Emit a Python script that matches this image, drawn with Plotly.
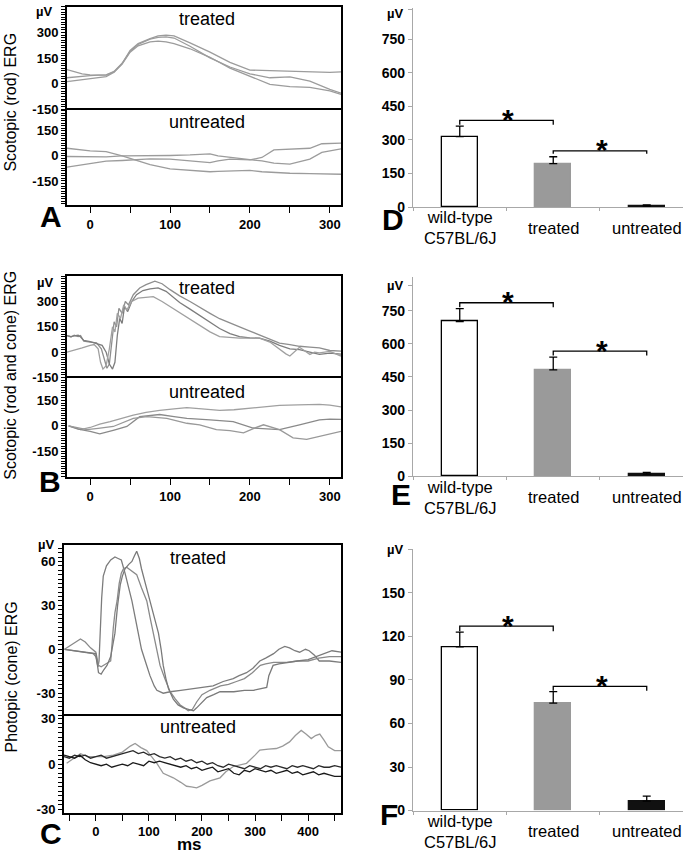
import plotly.graph_objects as go

FONT = "Arial, 'Liberation Sans', Helvetica, sans-serif"
W, H = 692, 858

# ---------------- DATA ----------------
# Panel A: scotopic (rod) ERG waveforms (ms, µV)
A_treat_t = [-29, -20, -10, 0, 10, 20, 30, 40, 50, 60, 75, 85, 95, 105, 125, 150, 175, 200, 225, 250, 275, 300, 314]
A_treat_1 = [83, 70, 58, 52, 50, 50, 70, 118, 195, 235, 265, 280, 285, 280, 240, 185, 125, 80, 77, 74, 70, 67, 70]
A_treat_2 = [35, 40, 45, 48, 50, 52, 72, 120, 190, 230, 262, 272, 275, 268, 220, 152, 98, 58, 35, 40, 15, -33, -55]
A_treat_3 = [12, 18, 25, 30, 35, 42, 68, 115, 185, 222, 245, 250, 245, 235, 205, 155, 92, 44, -4, -17, -21, -42, -62]

A_untr_t = [-29, -10, 0, 20, 40, 60, 75, 100, 125, 150, 160, 175, 200, 215, 230, 250, 275, 290, 300, 314]
A_untr_1 = [45, 35, 30, 25, 0, -30, -52, -78, -85, -95, -93, -90, -87, -95, -100, -104, -106, -107, -106, -110]
A_untr_2 = [-4, -6, -8, -6, 0, 0, 2, 2, 5, 12, 0, -10, -23, -30, -43, -50, -20, 20, 30, 41]
A_untr_3 = [-68, -55, -45, -32, -28, -20, -18, -20, -28, -40, -30, -20, -24, -10, 35, 38, 45, 72, 75, 76]

# Panel B: scotopic (rod and cone) ERG
B_treat_1_t = [-29, -24, -20, -15, -12, -8, 0, 8, 14, 18, 21, 24, 27, 30, 33, 36, 40, 44, 48, 54, 62, 70, 81, 90, 100, 112, 125, 137, 150, 162, 175, 187, 200, 212, 225, 237, 250, 262, 275, 287, 300, 314]
B_treat_1 = [98, 90, 100, 92, 98, 65, 60, 55, 20, -50, -95, -70, 50, 180, 150, 260, 230, 300, 280, 340, 380, 400, 420, 405, 370, 333, 300, 265, 230, 198, 175, 150, 125, 102, 80, 54, 45, 35, 30, 25, 10, 6]
B_treat_2_t = [-29, -24, -20, -15, -12, -8, 0, 8, 15, 20, 24, 28, 31, 34, 37, 40, 43, 47, 52, 58, 66, 75, 85, 95, 105, 112, 125, 137, 150, 162, 175, 187, 200, 212, 225, 237, 250, 262, 275, 287, 300, 314]
B_treat_2 = [98, 92, 96, 100, 90, 70, 62, 50, 40, 0, -70, -100, -60, 100, 200, 170, 270, 240, 300, 340, 365, 375, 380, 360, 320, 294, 255, 217, 175, 140, 110, 92, 85, 83, 65, 40, 20, 15, 0, -13, -5, -12]
B_treat_3_t = [-29, -20, -10, 0, 5, 10, 13, 16, 20, 24, 28, 31, 34, 38, 42, 46, 52, 60, 70, 79, 90, 100, 112, 125, 137, 150, 162, 175, 187, 200, 212, 225, 237, 245, 250, 256, 262, 268, 275, 281, 287, 300, 314]
B_treat_3 = [0, 10, 25, 40, 45, 20, -60, -100, -80, 20, 150, 120, 230, 200, 280, 250, 300, 320, 325, 329, 300, 270, 236, 200, 160, 120, 92, 85, 83, 83, 83, 60, 15, -10, -23, 5, 29, 10, -13, 0, -4, 5, -23]

B_untr_1_t = [-27, -12, 0, 12, 25, 40, 54, 70, 87, 105, 121, 140, 162, 180, 196, 215, 237, 260, 287, 300, 314]
B_untr_1 = [0, -23, -10, 10, 25, 45, 63, 80, 92, 100, 108, 100, 92, 95, 102, 110, 121, 124, 127, 122, 112]
B_untr_2_t = [-27, -15, 0, 12, 30, 46, 62, 75, 87, 105, 121, 150, 179, 204, 220, 237, 262, 287, 300, 314]
B_untr_2 = [0, -20, -33, -48, -25, -4, 54, 60, 67, 55, 44, 35, 25, -13, -18, -23, 6, 35, 40, 38]
B_untr_3_t = [-27, -4, 10, 29, 54, 71, 96, 121, 137, 158, 175, 192, 205, 217, 237, 254, 271, 287, 300, 314]
B_untr_3 = [0, -23, -15, -4, 44, 54, 44, 15, 6, -23, -29, -42, -15, 6, -23, -71, -80, -62, -45, -33]

# Panel C: photopic (cone) ERG
C_treat_1_t = [-59, -40, -20, -5, 0, 4, 6, 8, 11, 14, 20, 28, 36, 42, 48, 55, 61, 68, 74, 80, 86, 94, 102, 110, 115, 127, 140, 160, 180, 200, 221, 240, 259, 270, 284, 296, 309, 320, 335, 345, 356, 365, 375, 384, 395, 402, 412, 421, 440, 462]
C_treat_1 = [0, -1, -2, -3, -5, -12, -8, 10, 35, 50, 57, 61, 63, 62, 61, 52, 44, 33, 22, 10, 0, -9, -18, -25, -28, -30, -29, -28, -27, -26, -25, -22, -20, -18, -16, -13, -8, -6, -3, 0, 2, 1, -1, -2, 0, -1, -4, -8, -8, -9]
C_treat_2_t = [-59, -45, -29, -20, -10, 0, 5, 10, 20, 28, 33, 36, 40, 44, 48, 52, 58, 66, 77, 86, 96, 102, 108, 115, 121, 130, 140, 150, 159, 167, 174, 182, 190, 200, 215, 235, 250, 265, 280, 295, 310, 320, 335, 360, 380, 400, 420, 440, 462]
C_treat_2 = [0, 3, 7, 5, 1, -2, -11, -12, -10, -8, 15, 25, 33, 45, 52, 55, 56, 54, 51, 42, 33, 22, 11, 0, -11, -20, -29, -34, -38, -40, -42, -41, -36, -31, -28, -25, -24, -22, -20, -16, -11, -10, -9, -9, -8, -8, -6, -5, -5]
C_treat_3_t = [-59, -40, -20, 0, 5, 10, 15, 21, 28, 36, 41, 46, 50, 55, 62, 68, 73, 77, 82, 86, 94, 102, 110, 118, 123, 127, 132, 137, 146, 155, 165, 175, 184, 190, 196, 209, 222, 234, 260, 280, 297, 310, 322, 326, 334, 345, 360, 380, 400, 415, 430, 445, 462]
C_treat_3 = [0, -1, -2, -3, -16, -17, -14, -11, -5, 11, 30, 44, 50, 55, 58, 60, 64, 67, 62, 55, 44, 33, 22, 11, 0, -11, -20, -27, -34, -38, -40, -41, -42, -40, -38, -33, -31, -29, -29, -28, -28, -27, -26, -18, -11, -10, -9, -8, -7, -5, -3, -1, -2]

C_untr_g_t = [-55, -45, -29, -15, 0, 15, 33, 50, 65, 74, 85, 96, 105, 115, 127, 146, 160, 171, 180, 190, 200, 215, 234, 245, 259, 284, 300, 309, 325, 340, 352, 365, 376, 387, 396, 406, 414, 422, 430, 438, 450, 462]
C_untr_g = [0.6, 3, 7, 5, 5, 5, 6, 8, 12, 13.7, 11, 9, 5, 0.6, -6, -9, -12, -14.6, -15, -15.6, -14, -11, -9, -5, -1.5, 0.6, 6, 9.3, 10, 10.4, 12, 14.8, 19, 22.4, 20, 17, 19, 20, 16, 11.5, 9, 9]
C_untr_k_t = [-60, -50, -40, -30, -20, -10, 0, 10, 20, 30, 40, 50, 60, 70, 80, 90, 100, 110, 120, 130, 140, 150, 160, 170, 180, 190, 200, 210, 220, 230, 240, 250, 260, 270, 280, 290, 300, 310, 320, 330, 340, 350, 360, 370, 380, 390, 400, 410, 420, 430, 440, 450, 462]
C_untr_k1 = [5, 4, 6, 5, 6, 4, 5, 6, 4, 5, 6, 7, 8, 9, 7, 8, 6, 7, 5, 4, 5, 3, 4, 2, 3, 1, 2, 0, 1, -1, -2, 0, -1, -2, -3, -1, -2, -3, -1, -2, -1, -2, -3, -1, -2, -1, -2, -3, -1, -2, -2, -1, -2]
C_untr_k2 = [6, 5, 4, 6, 3, 1, 0, -1, 0, -2, -1, 0, -1, 1, 0, -1, 2, 1, 2, 1, 0, -1, -2, -1, -3, -2, -4, -3, -2, -5, -4, -3, -6, -7, -4, -5, -3, -4, -5, -4, -6, -5, -4, -6, -5, -7, -6, -5, -7, -6, -7, -8, -8]

# Bar panels D/E/F: mean amplitude (µV) and upper error
groups = ["wild-type C57BL/6J", "treated", "untreated"]
D_mean = [315, 194, 5]
D_err = [47, 31, 5]
E_mean = [701, 482, 10]
E_err = [58, 58, 8]
F_mean = [112.7, 74, 6.5]
F_err = [10.2, 8, 3.5]
# significance brackets (top level, foot level): wt-vs-treated, treated-vs-untreated
D_brackets = [(388, 368), (251, 238)]
E_brackets = [(786, 766), (567, 547)]
F_brackets = [(127, 123.5), (85.5, 82.5)]

# tick labels
A_top_ticks = [-150, 0, 150, 300]
A_bot_ticks = [-150, 0, 150]
B_top_ticks = [-150, 0, 150, 300]
B_bot_ticks = [-150, 0, 150]
C_top_ticks = [-30, 0, 30, 60]
C_bot_ticks = [-30, 0, 30]
AB_x_ticks = [0, 100, 200, 300]
C_x_ticks = [0, 100, 200, 300, 400]
DE_y_ticks = [0, 150, 300, 450, 600, 750]
F_y_ticks = [0, 30, 60, 90, 120, 150]

# ---------------- FIGURE ----------------
fig = go.Figure()
layout = {}
annotations = []


def fx(p):
    return p / W


def fy(p):
    return 1 - p / H


def axname(prefix, n):
    return f"{prefix}axis" + ("" if n == 1 else str(n))


def ref(prefix, n):
    return prefix + ("" if n == 1 else str(n))


def tick_grid(rng, step):
    """all tick positions (every `step`) inside the axis range"""
    k = int(-(-rng[0] // step))
    out = []
    while k * step <= rng[1] + 1e-9:
        out.append(round(k * step, 6))
        k += 1
    return out


def labelled(vals, labels):
    return [str(int(v)) if any(abs(v - l) < 1e-6 for l in labels) else "" for v in vals]


def add_line(t, y, n_x, n_y, color):
    fig.add_trace(go.Scatter(x=t, y=y, xaxis=ref("x", n_x), yaxis=ref("y", n_y), mode="lines",
                             line=dict(color=color, width=1.3), showlegend=False, hoverinfo="skip"))


tickfont_b = dict(family=FONT, size=13, color="black", weight="bold")


def left_panel(nb, nt, xdom_px, top_px, mid_px, bot_px, xr, yr_top, yr_bot,
               xticks, xstep, top_ticks, bot_ticks, ystep):
    xd = [fx(xdom_px[0]), fx(xdom_px[1])]
    common = dict(showline=True, linecolor="black", linewidth=2, mirror=True, ticks="outside",
                  ticklen=4, tickwidth=1, tickcolor="black", showgrid=False, zeroline=False,
                  tickfont=tickfont_b, tickmode="array")
    vb = tick_grid(yr_bot, ystep)
    vt = tick_grid(yr_top, ystep)
    layout[axname("y", nb)] = dict(common, domain=[fy(bot_px), fy(mid_px)], range=yr_bot,
                                   anchor=ref("x", nb), tickvals=vb, ticktext=labelled(vb, bot_ticks))
    layout[axname("y", nt)] = dict(common, domain=[fy(mid_px), fy(top_px)], range=yr_top,
                                   anchor=ref("x", nt), tickvals=vt, ticktext=labelled(vt, top_ticks))
    vx = tick_grid(xr, xstep)
    layout[axname("x", nb)] = dict(domain=xd, anchor=ref("y", nb), range=xr, showline=True,
                                   linecolor="black", linewidth=2, mirror=True, ticks="outside",
                                   ticklen=6, tickwidth=1.3, tickcolor="black", tickmode="array",
                                   tickvals=vx, ticktext=labelled(vx, xticks), tickfont=tickfont_b,
                                   showgrid=False, zeroline=False)
    layout[axname("x", nt)] = dict(domain=xd, anchor=ref("y", nt), range=xr, side="top", showline=True,
                                   linecolor="black", linewidth=2, mirror=False, ticks="",
                                   showticklabels=False, showgrid=False, zeroline=False)


# Panel A (axes 1 bottom / 2 top)
left_panel(1, 2, (67, 341), 3, 107, 204, [-29, 314], [-151, 450], [-294, 276],
           AB_x_ticks, 50, A_top_ticks, A_bot_ticks, 15)
# Panel B (axes 3 bottom / 4 top)
left_panel(3, 4, (67, 341), 276, 379, 480, [-29, 314], [-151, 450], [-305, 285],
           AB_x_ticks, 50, B_top_ticks, B_bot_ticks, 15)
# Panel C (axes 5 bottom / 6 top)
left_panel(5, 6, (64, 341), 549, 722, 820, [-60, 462], [-45.5, 71], [-32, 32],
           C_x_ticks, 50, C_top_ticks, C_bot_ticks, 3)

gA = "#9c9c9c"
for y in (A_treat_1, A_treat_2, A_treat_3):
    add_line(A_treat_t, y, 2, 2, gA)
for y in (A_untr_1, A_untr_2, A_untr_3):
    add_line(A_untr_t, y, 1, 1, gA)

add_line(B_treat_1_t, B_treat_1, 4, 4, "#8e8e8e")
add_line(B_treat_2_t, B_treat_2, 4, 4, "#7d7d7d")
add_line(B_treat_3_t, B_treat_3, 4, 4, "#a0a0a0")
add_line(B_untr_1_t, B_untr_1, 3, 3, "#a0a0a0")
add_line(B_untr_2_t, B_untr_2, 3, 3, "#8a8a8a")
add_line(B_untr_3_t, B_untr_3, 3, 3, "#999999")

add_line(C_treat_1_t, C_treat_1, 6, 6, "#7c7c7c")
add_line(C_treat_2_t, C_treat_2, 6, 6, "#8a8a8a")
add_line(C_treat_3_t, C_treat_3, 6, 6, "#7a7a7a")
add_line(C_untr_g_t, C_untr_g, 5, 5, "#9a9a9a")
add_line(C_untr_k_t, C_untr_k1, 5, 5, "#2a2a2a")
add_line(C_untr_k_t, C_untr_k2, 5, 5, "#1a1a1a")

# Bar panels
bar_fill = ["white", "#9a9a9a", "#111111"]
bar_edge = ["black", "#9a9a9a", "#111111"]
tickfont_r = dict(family=FONT, size=14, color="black", weight="bold")


def right_panel(n, top_px, bot_px, yr, yticks, mu_val, means, errs, brackets):
    layout[axname("x", n)] = dict(domain=[fx(413), fx(683)], anchor=ref("y", n), type="category",
                                  categoryorder="array", categoryarray=groups,
                                  range=[-0.5, 2.388], showline=True, linecolor="#a8a8a8",
                                  linewidth=1.2, ticks="outside", tickson="boundaries", ticklen=3,
                                  tickcolor="#a8a8a8", showticklabels=False, showgrid=False,
                                  zeroline=False)
    layout[axname("y", n)] = dict(domain=[fy(bot_px), fy(top_px)], anchor=ref("x", n), range=yr,
                                  showline=True, linecolor="#a8a8a8", linewidth=1.2, ticks="outside",
                                  ticklen=4, tickcolor="#a8a8a8", tickmode="array",
                                  tickvals=yticks + [mu_val],
                                  ticktext=[str(v) for v in yticks] + [""], tickfont=tickfont_r,
                                  showgrid=False, zeroline=False)
    fig.add_trace(go.Bar(x=groups, y=means, width=0.385, xaxis=ref("x", n), yaxis=ref("y", n),
                         marker=dict(color=bar_fill, line=dict(color=bar_edge, width=1.3)),
                         error_y=dict(type="data", array=errs, arrayminus=[0] * len(errs),
                                      symmetric=False, color="black", thickness=1.3, width=4),
                         showlegend=False, hoverinfo="skip"))
    for i, (hi, lo) in enumerate(brackets):
        fig.add_trace(go.Scatter(x=[groups[i], groups[i], groups[i + 1], groups[i + 1]],
                                 y=[lo, hi, hi, lo], xaxis=ref("x", n), yaxis=ref("y", n),
                                 mode="lines", line=dict(color="black", width=1.3),
                                 showlegend=False, hoverinfo="skip"))
        annotations.append(dict(x=i + 0.52, y=hi, xref=ref("x", n), yref=ref("y", n), text="<b>*</b>",
                                showarrow=False, yanchor="middle", yshift=1,
                                font=dict(family=FONT, size=30, color="black")))
    for g in groups:
        annotations.append(dict(x=g, y=fy(bot_px + 21), xref=ref("x", n), yref="paper",
                                text=g.replace(" ", "<br>"), showarrow=False, yanchor="middle",
                                font=dict(family=FONT, size=16.5, color="black")))


right_panel(7, 4, 206, [0, 890], DE_y_ticks, 885, D_mean, D_err, D_brackets)
right_panel(8, 277, 479, [0, 902], DE_y_ticks, 866, E_mean, E_err, E_brackets)
right_panel(9, 553, 818, [0, 180], F_y_ticks, 179.5, F_mean, F_err, F_brackets)


# ---------------- TEXT ----------------
def txt(x, y, s, size, bold=False, angle=0):
    annotations.append(dict(x=fx(x), y=fy(y), xref="paper", yref="paper", text=s, showarrow=False,
                            xanchor="center", yanchor="middle", textangle=angle,
                            font=dict(family=FONT, size=size, color="black",
                                      weight="bold" if bold else "normal")))


for L, (x, y) in {"A": (51, 216), "B": (50, 484), "C": (51, 841),
                  "D": (393, 219), "E": (401, 497), "F": (389, 822)}.items():
    txt(x, y, L, 30, bold=True)

txt(207, 15, "treated", 18)
txt(207, 120, "untreated", 18)
txt(207, 288, "treated", 18)
txt(207, 393, "untreated", 18)
txt(198, 562, "treated", 18)
txt(198, 733, "untreated", 18)

txt(11, 100, "Scotopic (rod) ERG", 16, angle=-90)
txt(11, 377, "Scotopic (rod and cone) ERG", 16, angle=-90)
txt(11, 683, "Photopic (cone) ERG", 16, angle=-90)

for (x, y) in [(44, 8), (45, 282), (46, 548), (395, 10), (395, 285), (395, 553)]:
    txt(x, y, "µV", 13, bold=True)

txt(189, 852, "ms", 17, bold=True)

layout["annotations"] = annotations
fig.update_layout(**layout)
fig.update_layout(width=W, height=H, margin=dict(l=0, r=0, t=0, b=0), paper_bgcolor="white",
                  plot_bgcolor="white", showlegend=False, bargap=0)
fig.write_html("out.html", config={"displayModeBar": False},
               post_script="document.body.style.margin='0px';document.body.style.overflow='hidden';")
